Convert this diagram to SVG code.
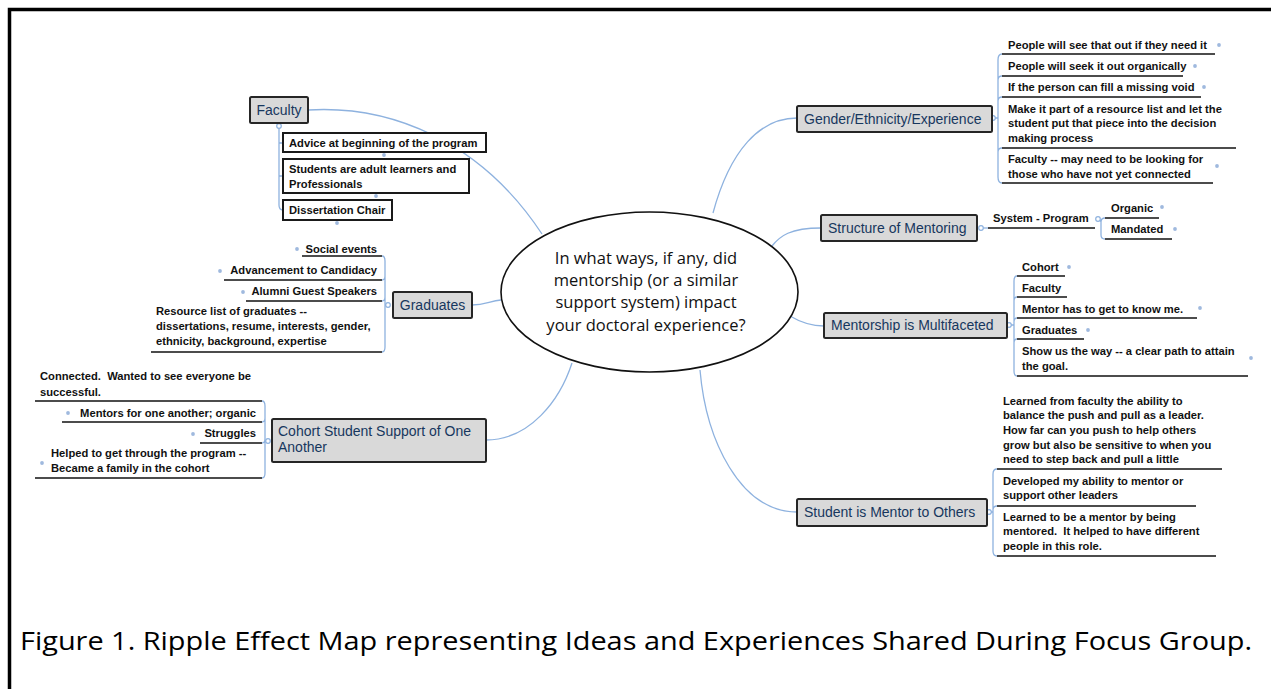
<svg xmlns="http://www.w3.org/2000/svg" width="1271" height="689" viewBox="0 0 1271 689">
  <style>
    .frame { fill: none; stroke: #000; stroke-width: 3.5; }
    .link { fill: none; stroke: #8eb2df; stroke-width: 1.3; }
    .joint { fill: #fff; stroke: #8eb2df; stroke-width: 1.2; }
    .dot { fill: #9fb9de; }
    .topic { fill: #d9d9d9; stroke: #262626; stroke-width: 2; }
    .leafbox { fill: #fff; stroke: #1a1a1a; stroke-width: 2; }
    .rule { stroke: #111; stroke-width: 1.6; }
    .central { fill: #fff; stroke: #111; stroke-width: 1.6; }
    .ttl { font-family: "Liberation Sans", Arial, sans-serif; font-size: 14px; fill: #17375e; }
    .leaf { font-family: "Liberation Sans", Arial, sans-serif; font-size: 11.2px; font-weight: bold; fill: #111; }
    .q { font-family: "Open Sans", "Liberation Sans", sans-serif; font-size: 16.5px; fill: #111; text-anchor: middle; }
    .cap { font-family: "Open Sans", "Liberation Sans", sans-serif; font-size: 26px; fill: #000; }
    .end { text-anchor: end; }
  </style>

  <!-- page frame (runs off the right and bottom edges) -->
  <rect class="frame" x="9.5" y="9.5" width="1300" height="720"/>

  <!-- connectors -->
  <g id="connectors">
    <!-- hub to main topics -->
    <path class="link" d="M308,110 C390,105 480,140 542,234"/>
    <path class="link" d="M472,305 C485,305 490,301 501,300"/>
    <path class="link" d="M486,440 C530,440 560,400 572,363"/>
    <path class="link" d="M713,213 C730,150 760,118 797,118"/>
    <path class="link" d="M772,246 C780,236 790,228 821,228"/>
    <path class="link" d="M790,316 C800,322 810,326 824,326"/>
    <path class="link" d="M700,370 C706,440 740,512 797,512"/>

    <!-- Faculty children -->
    <path class="link" d="M279,128 L279,205 Q279,210 283,210 M279,143 L283,143 M279,176 L283,176"/>
    <circle class="joint" cx="279" cy="126" r="2.3"/>

    <!-- Graduates children -->
    <path class="link" d="M382,256 Q385,256 385,261 L385,347 Q385,352 382,352 M385,276 Q385,280 382,280 M385,297 Q385,301 382,301 M385,305 L386,305"/>
    <circle class="joint" cx="388" cy="305" r="2.3"/>

    <!-- Cohort children -->
    <path class="link" d="M262,401 Q265,401 265,406 L265,473 Q265,478 262,478 M265,418 Q265,422 262,422 M265,439 Q265,443 262,443 M265,441 L266,441"/>
    <circle class="joint" cx="268" cy="441" r="2.3"/>

    <!-- Gender/Ethnicity/Experience children -->
    <path class="link" d="M1002,54 Q998,54 998,60 L998,177 Q998,183 1002,183 M998,80 Q998,76 1002,76 M998,101 Q998,97 1002,97 M998,152 Q998,148 1002,148 M995,118 L998,118"/>
    <circle class="joint" cx="993" cy="118" r="2.3"/>

    <!-- Structure of Mentoring children -->
    <path class="link" d="M983,228 L988,228"/>
    <circle class="joint" cx="981" cy="228" r="2.3"/>
    <path class="link" d="M1105,218 Q1101,218 1101,222 L1101,235 Q1101,239 1105,239 M1100,220 L1101,222"/>
    <circle class="joint" cx="1098" cy="219" r="2.3"/>

    <!-- Mentorship is Multifaceted children -->
    <path class="link" d="M1017,276 Q1014,276 1014,281 L1014,371 Q1014,376 1017,376 M1014,301 Q1014,297 1017,297 M1014,322 Q1014,318 1017,318 M1014,343 Q1014,339 1017,339 M1011,325 L1014,325"/>
    <circle class="joint" cx="1009" cy="325" r="2.3"/>

    <!-- Student is Mentor to Others children -->
    <path class="link" d="M997,469 Q993,469 993,474 L993,551 Q993,556 997,556 M993,510 Q993,506 997,506 M991,512 L993,512"/>
    <circle class="joint" cx="989" cy="512" r="2.3"/>
  </g>

  <!-- central question -->
  <g id="central">
    <ellipse class="central" cx="649.5" cy="292" rx="148.5" ry="80"/>
    <text class="q" x="646" y="264">In what ways, if any, did</text>
    <text class="q" x="646" y="286">mentorship (or a similar</text>
    <text class="q" x="646" y="308">support system) impact</text>
    <text class="q" x="646" y="331">your doctoral experience?</text>
  </g>

  <!-- Faculty -->
  <g id="faculty">
    <rect class="topic" x="250" y="97" width="58" height="26" rx="1.5"/>
    <text class="ttl" x="279" y="115" text-anchor="middle">Faculty</text>
    <rect class="leafbox" x="283" y="133" width="203" height="19"/>
    <text class="leaf" x="289" y="147">Advice at beginning of the program</text>
    <rect class="leafbox" x="283" y="159" width="186" height="34"/>
    <text class="leaf" x="289" y="173">Students are adult learners and</text>
    <text class="leaf" x="289" y="188">Professionals</text>
    <rect class="leafbox" x="283" y="200" width="109" height="20"/>
    <text class="leaf" x="289" y="214">Dissertation Chair</text>
    <circle class="dot" cx="384" cy="155" r="1.9"/>
    <circle class="dot" cx="376" cy="196" r="1.9"/>
    <circle class="dot" cx="337" cy="223" r="1.9"/>
  </g>

  <!-- Graduates -->
  <g id="graduates">
    <rect class="topic" x="393" y="292" width="79" height="26" rx="1.5"/>
    <text class="ttl" x="432.5" y="310" text-anchor="middle">Graduates</text>
    <text class="leaf end" x="377" y="253">Social events</text>
    <line class="rule" x1="302" y1="256" x2="382" y2="256"/>
    <circle class="dot" cx="297" cy="249" r="1.9"/>
    <text class="leaf end" x="377" y="274">Advancement to Candidacy</text>
    <line class="rule" x1="224" y1="280" x2="382" y2="280"/>
    <circle class="dot" cx="220" cy="271" r="1.9"/>
    <text class="leaf end" x="377" y="295">Alumni Guest Speakers</text>
    <line class="rule" x1="246" y1="301" x2="382" y2="301"/>
    <circle class="dot" cx="243" cy="292" r="1.9"/>
    <text class="leaf" x="156" y="315">Resource list of graduates --</text>
    <text class="leaf" x="156" y="330">dissertations, resume, interests, gender,</text>
    <text class="leaf" x="156" y="345">ethnicity, background, expertise</text>
    <line class="rule" x1="151" y1="352" x2="382" y2="352"/>
  </g>

  <!-- Cohort Student Support of One Another -->
  <g id="cohort">
    <rect class="topic" x="272" y="419" width="214" height="43" rx="1.5"/>
    <text class="ttl" x="278" y="436">Cohort Student Support of One</text>
    <text class="ttl" x="278" y="452">Another</text>
    <text class="leaf" x="40" y="380" xml:space="preserve">Connected.  Wanted to see everyone be</text>
    <text class="leaf" x="40" y="396">successful.</text>
    <line class="rule" x1="35" y1="401" x2="262" y2="401"/>
    <text class="leaf end" x="256" y="417">Mentors for one another; organic</text>
    <line class="rule" x1="62" y1="422" x2="262" y2="422"/>
    <circle class="dot" cx="68" cy="413" r="1.9"/>
    <text class="leaf end" x="256" y="437">Struggles</text>
    <line class="rule" x1="200" y1="443" x2="262" y2="443"/>
    <circle class="dot" cx="193" cy="434" r="1.9"/>
    <text class="leaf" x="51" y="457">Helped to get through the program --</text>
    <text class="leaf" x="51" y="472">Became a family in the cohort</text>
    <line class="rule" x1="35" y1="478" x2="262" y2="478"/>
    <circle class="dot" cx="42" cy="463" r="1.9"/>
  </g>

  <!-- Gender/Ethnicity/Experience -->
  <g id="gender">
    <rect class="topic" x="797" y="106" width="195" height="26" rx="1.5"/>
    <text class="ttl" x="804" y="124">Gender/Ethnicity/Experience</text>
    <text class="leaf" x="1008" y="49">People will see that out if they need it</text>
    <line class="rule" x1="1002" y1="54" x2="1215" y2="54"/>
    <circle class="dot" cx="1219" cy="45" r="1.9"/>
    <text class="leaf" x="1008" y="70">People will seek it out organically</text>
    <line class="rule" x1="1002" y1="76" x2="1183" y2="76"/>
    <circle class="dot" cx="1195" cy="66" r="1.9"/>
    <text class="leaf" x="1008" y="91">If the person can fill a missing void</text>
    <line class="rule" x1="1002" y1="97" x2="1201" y2="97"/>
    <circle class="dot" cx="1204" cy="87" r="1.9"/>
    <text class="leaf" x="1008" y="113">Make it part of a resource list and let the</text>
    <text class="leaf" x="1008" y="127">student put that piece into the decision</text>
    <text class="leaf" x="1008" y="142">making process</text>
    <line class="rule" x1="1002" y1="148" x2="1236" y2="148"/>
    <text class="leaf" x="1008" y="163">Faculty -- may need to be looking for</text>
    <text class="leaf" x="1008" y="178">those who have not yet connected</text>
    <line class="rule" x1="1002" y1="183" x2="1213" y2="183"/>
    <circle class="dot" cx="1217" cy="166" r="1.9"/>
  </g>

  <!-- Structure of Mentoring -->
  <g id="structure">
    <rect class="topic" x="821" y="215" width="156" height="26" rx="1.5"/>
    <text class="ttl" x="828" y="233">Structure of Mentoring</text>
    <text class="leaf" x="993" y="222">System - Program</text>
    <line class="rule" x1="988" y1="228" x2="1095" y2="228"/>
    <text class="leaf" x="1111" y="212">Organic</text>
    <line class="rule" x1="1105" y1="218" x2="1159" y2="218"/>
    <circle class="dot" cx="1162" cy="207" r="1.9"/>
    <text class="leaf" x="1111" y="233">Mandated</text>
    <line class="rule" x1="1105" y1="239" x2="1172" y2="239"/>
    <circle class="dot" cx="1175" cy="229" r="1.9"/>
  </g>

  <!-- Mentorship is Multifaceted -->
  <g id="multifaceted">
    <rect class="topic" x="824" y="313" width="183" height="25" rx="1.5"/>
    <text class="ttl" x="831" y="330">Mentorship is Multifaceted</text>
    <text class="leaf" x="1022" y="271">Cohort</text>
    <line class="rule" x1="1017" y1="276" x2="1065" y2="276"/>
    <circle class="dot" cx="1069" cy="267" r="1.9"/>
    <text class="leaf" x="1022" y="292">Faculty</text>
    <line class="rule" x1="1017" y1="297" x2="1067" y2="297"/>
    <text class="leaf" x="1022" y="313">Mentor has to get to know me.</text>
    <line class="rule" x1="1017" y1="318" x2="1197" y2="318"/>
    <circle class="dot" cx="1200" cy="308" r="1.9"/>
    <text class="leaf" x="1022" y="334">Graduates</text>
    <line class="rule" x1="1017" y1="339" x2="1084" y2="339"/>
    <circle class="dot" cx="1088" cy="330" r="1.9"/>
    <text class="leaf" x="1022" y="355">Show us the way -- a clear path to attain</text>
    <text class="leaf" x="1022" y="370">the goal.</text>
    <line class="rule" x1="1017" y1="376" x2="1248" y2="376"/>
    <circle class="dot" cx="1251" cy="358" r="1.9"/>
  </g>

  <!-- Student is Mentor to Others -->
  <g id="student-mentor">
    <rect class="topic" x="797" y="499" width="190" height="27" rx="1.5"/>
    <text class="ttl" x="804" y="517">Student is Mentor to Others</text>
    <text class="leaf" x="1003" y="405">Learned from faculty the ability to</text>
    <text class="leaf" x="1003" y="419">balance the push and pull as a leader.</text>
    <text class="leaf" x="1003" y="434">How far can you push to help others</text>
    <text class="leaf" x="1003" y="449">grow but also be sensitive to when you</text>
    <text class="leaf" x="1003" y="463">need to step back and pull a little</text>
    <line class="rule" x1="997" y1="469" x2="1222" y2="469"/>
    <text class="leaf" x="1003" y="485">Developed my ability to mentor or</text>
    <text class="leaf" x="1003" y="499">support other leaders</text>
    <line class="rule" x1="997" y1="506" x2="1196" y2="506"/>
    <text class="leaf" x="1003" y="521">Learned to be a mentor by being</text>
    <text class="leaf" x="1003" y="535" xml:space="preserve">mentored.  It helped to have different</text>
    <text class="leaf" x="1003" y="550">people in this role.</text>
    <line class="rule" x1="997" y1="556" x2="1216" y2="556"/>
  </g>

  <!-- caption -->
  <text class="cap" x="20" y="650" textLength="1232" lengthAdjust="spacingAndGlyphs">Figure 1. Ripple Effect Map representing Ideas and Experiences Shared During Focus Group.</text>
</svg>
